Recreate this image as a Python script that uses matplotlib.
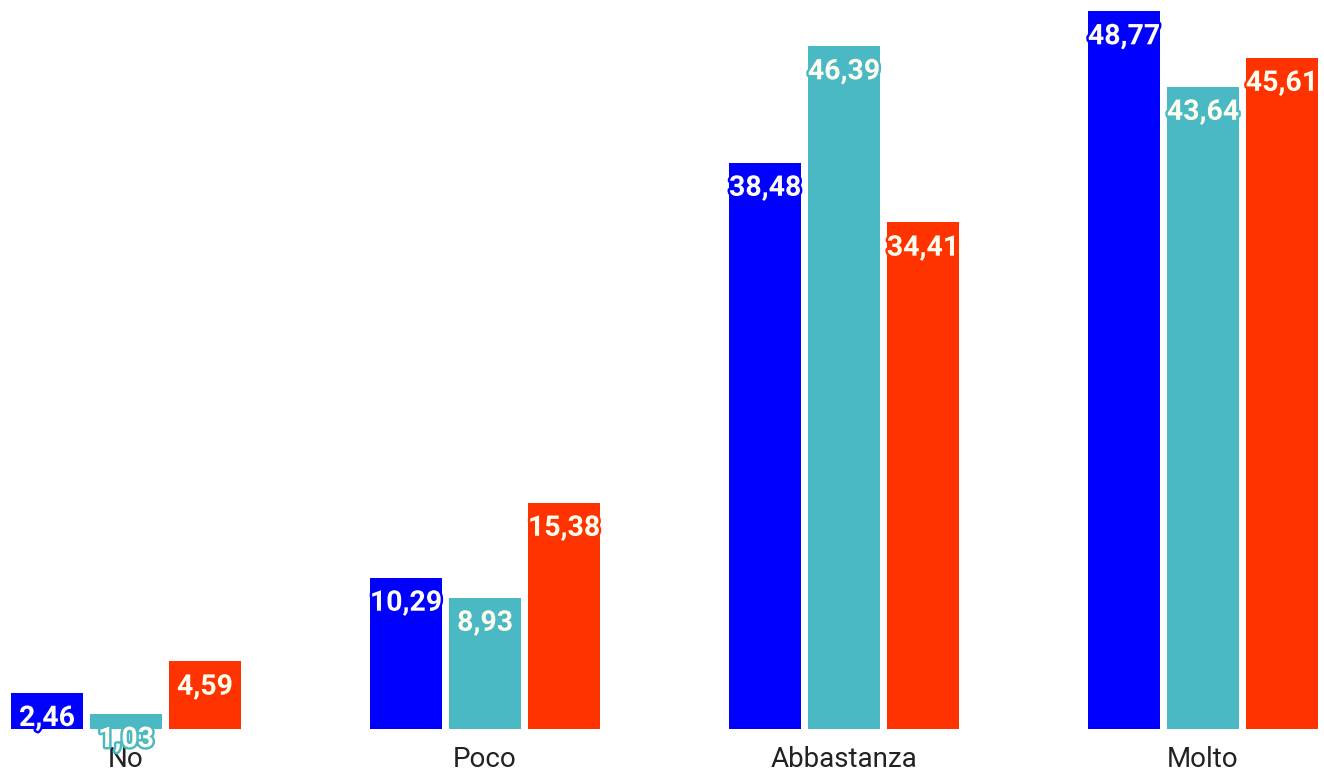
import numpy as np
import matplotlib.pyplot as plt
import matplotlib.patheffects as pe

categories = ["No", "Poco", "Abbastanza", "Molto"]
serie_a = [2.46, 10.29, 38.48, 48.77]
serie_b = [1.03, 8.93, 46.39, 43.64]
serie_c = [4.59, 15.38, 34.41, 45.61]

colori = ["#0000ff", "#4ab9c4", "#ff3300"]

fig = plt.figure(figsize=(13.24, 7.71), dpi=100)
ax = fig.add_axes([0, 42 / 771, 1, 1 - 42 / 771])

x = np.arange(len(categories))
step = 0.22
width = 0.203

for i, (vals, col) in enumerate(zip([serie_a, serie_b, serie_c], colori)):
    pos = x + (i - 1) * step
    ax.bar(pos, vals, width=width, color=col, zorder=2)
    for px, v in zip(pos, vals):
        t = ax.annotate(f"{v:.2f}".replace(".", ","), (px, v),
                        xytext=(0, -18.5), textcoords="offset points",
                        ha="center", va="center", fontsize=20.5,
                        fontweight="bold", family="Roboto", color="#fffdf0",
                        zorder=3, annotation_clip=False)
        t.set_path_effects([pe.withStroke(linewidth=3.5, foreground=col)])

ax.set_xlim(-126 / 359, 1198 / 359)
ax.set_ylim(0, 729 / 14.72)
ax.set_xticks(x)
ax.set_xticklabels(categories, fontsize=20, family="Roboto", color="#222222")
ax.tick_params(axis="x", length=0, pad=12)
ax.set_yticks([])
for s in ax.spines.values():
    s.set_visible(False)

fig.savefig("out.png", dpi=100)
